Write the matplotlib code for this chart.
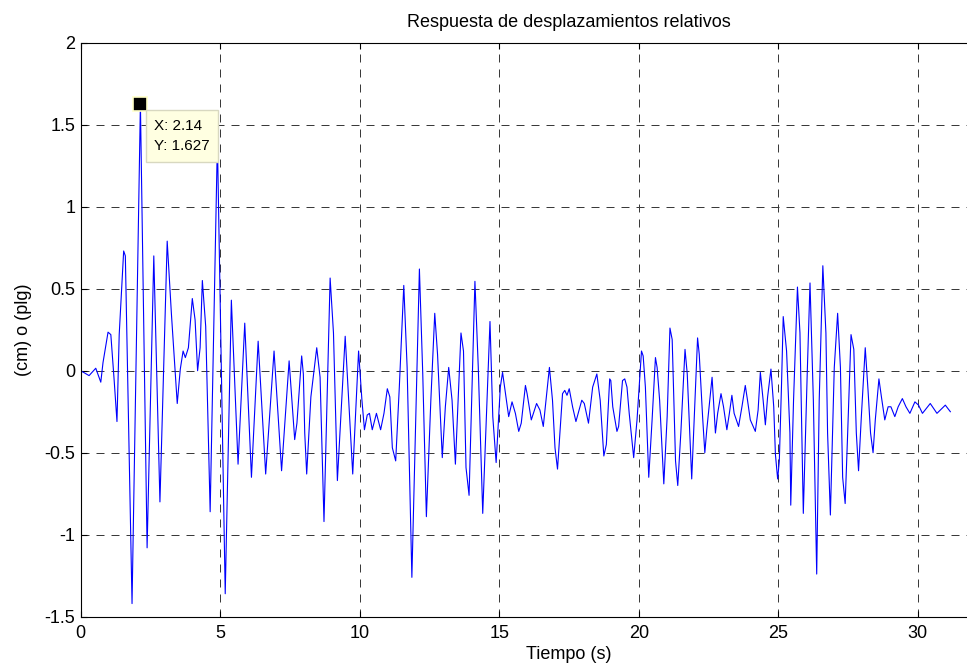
import matplotlib
matplotlib.use("Agg")
import matplotlib.pyplot as plt

plt.rcParams['font.family'] = ['Liberation Sans', 'DejaVu Sans']

# Time (s) and relative displacement (cm)
tiempo = [
    0.00, 0.30, 0.54, 0.72, 0.80, 0.98, 1.08, 1.20, 1.30, 1.38, 1.54, 1.60,
    1.84, 2.14, 2.38, 2.62, 2.84, 3.10, 3.25, 3.46, 3.57, 3.67, 3.75, 3.86,
    4.00, 4.10, 4.19, 4.28, 4.36, 4.48, 4.64, 4.90, 5.18, 5.40, 5.64, 5.88,
    6.12, 6.36, 6.63, 6.93, 7.20, 7.47, 7.67, 7.75, 7.92, 7.98, 8.03, 8.10,
    8.25, 8.46, 8.58, 8.72, 8.94, 9.06, 9.20, 9.48, 9.75, 9.96, 10.08, 10.17,
    10.27, 10.35, 10.45, 10.60, 10.75, 10.87, 10.99, 11.08, 11.17, 11.29,
    11.42, 11.58, 11.70, 11.87, 12.14, 12.26, 12.39, 12.55, 12.69, 12.79,
    12.96, 13.07, 13.19, 13.31, 13.43, 13.63, 13.72, 13.81, 13.92, 14.13,
    14.25, 14.41, 14.67, 14.77, 14.89, 15.04, 15.12, 15.34, 15.46, 15.58,
    15.70, 15.79, 15.94, 16.00, 16.15, 16.34, 16.46, 16.58, 16.80, 16.91,
    17.00, 17.09, 17.27, 17.35, 17.43, 17.51, 17.63, 17.75, 17.96, 18.05,
    18.20, 18.35, 18.50, 18.62, 18.75, 18.84, 18.96, 19.00, 19.07, 19.22,
    19.28, 19.42, 19.50, 19.58, 19.66, 19.82, 19.94, 20.10, 20.16, 20.24,
    20.36, 20.48, 20.60, 20.66, 20.75, 20.90, 21.02, 21.12, 21.20, 21.32,
    21.40, 21.51, 21.66, 21.74, 21.90, 22.11, 22.17, 22.29, 22.37, 22.44,
    22.63, 22.75, 22.83, 22.95, 23.04, 23.16, 23.25, 23.34, 23.42, 23.58,
    23.70, 23.82, 23.90, 24.00, 24.18, 24.28, 24.36, 24.46, 24.54, 24.62,
    24.74, 24.84, 24.90, 24.98, 25.04, 25.12, 25.18, 25.30, 25.42, 25.45,
    25.55, 25.69, 25.78, 25.90, 26.04, 26.14, 26.26, 26.38, 26.47, 26.60,
    26.71, 26.77, 26.87, 27.01, 27.13, 27.23, 27.31, 27.40, 27.49, 27.61,
    27.71, 27.80, 27.88, 27.98, 28.12, 28.22, 28.31, 28.40, 28.48, 28.61,
    28.70, 28.82, 28.94, 29.04, 29.18, 29.30, 29.45, 29.58, 29.72, 29.90,
    30.03, 30.17, 30.45, 30.69, 30.99, 31.17,
]
desplazamiento = [
    0.00, -0.03, 0.015, -0.07, 0.05, 0.235, 0.22, -0.06, -0.31, 0.22, 0.73, 0.70,
    -1.42, 1.627, -1.08, 0.70, -0.80, 0.79, 0.35, -0.20, 0.01, 0.12, 0.08, 0.14,
    0.44, 0.31, 0.00, 0.14, 0.55, 0.27, -0.86, 1.40, -1.36, 0.43, -0.57, 0.29,
    -0.65, 0.18, -0.63, 0.12, -0.61, 0.06, -0.42, -0.32, 0.09, -0.02, -0.38, -0.63,
    -0.16, 0.14, -0.04, -0.92, 0.565, 0.23, -0.67, 0.21, -0.63, 0.12, -0.18, -0.36,
    -0.27, -0.26, -0.36, -0.26, -0.36, -0.26, -0.11, -0.16, -0.47, -0.55,
    -0.10, 0.52, 0.02, -1.26, 0.62, -0.02, -0.89, -0.18, 0.35, 0.10,
    -0.53, -0.22, 0.02, -0.18, -0.57, 0.23, 0.12, -0.59, -0.76, 0.545,
    0.02, -0.87, 0.30, -0.28, -0.56, -0.10, -0.01, -0.28, -0.19, -0.26,
    -0.37, -0.32, -0.09, -0.14, -0.30, -0.20, -0.24, -0.34, 0.02, -0.18,
    -0.47, -0.60, -0.14, -0.12, -0.15, -0.11, -0.22, -0.31, -0.18, -0.20,
    -0.32, -0.10, -0.02, -0.18, -0.52, -0.45, -0.05, -0.06, -0.22, -0.37,
    -0.34, -0.06, -0.05, -0.10, -0.26, -0.53, -0.30, 0.12, 0.09, -0.10,
    -0.65, -0.30, 0.08, 0.02, -0.18, -0.69, -0.28, 0.26, 0.19, -0.55,
    -0.70, -0.38, 0.13, -0.02, -0.66, 0.20, 0.10, -0.28, -0.50, -0.36,
    -0.04, -0.38, -0.26, -0.14, -0.22, -0.36, -0.26, -0.15, -0.26, -0.34,
    -0.22, -0.09, -0.18, -0.30, -0.37, -0.24, -0.01, -0.18, -0.33, -0.16,
    0.01, -0.22, -0.51, -0.66, -0.55, -0.08, 0.33, 0.12, -0.38, -0.82,
    -0.18, 0.51, 0.23, -0.87, -0.02, 0.535, -0.18, -1.24, -0.18, 0.64,
    0.23, -0.38, -0.88, 0.02, 0.35, 0.02, -0.65, -0.81, -0.38, 0.22,
    0.13, -0.38, -0.61, -0.28, 0.14, -0.12, -0.38, -0.50, -0.30, -0.05,
    -0.16, -0.30, -0.22, -0.22, -0.28, -0.22, -0.17, -0.22, -0.26, -0.19,
    -0.21, -0.26, -0.20, -0.26, -0.21, -0.25,
]

xticks = [0, 5, 10, 15, 20, 25, 30]
yticks = [-1.5, -1, -0.5, 0, 0.5, 1, 1.5, 2]
ytick_labels = ['-1.5', '-1', '-0.5', '0', '0.5', '1', '1.5', '2']

tip_x = 2.14
tip_y = 1.627

fig = plt.figure(figsize=(9.67, 6.70), dpi=100)
ax = fig.add_axes([80.7 / 967, 53.3 / 670, 35 * 27.9 / 967, 574 / 670])

ax.plot(tiempo, desplazamiento, color='#0000ff', linewidth=0.8)

ax.set_xlim(0, 35)
ax.set_ylim(-1.5, 2)
ax.set_xticks(xticks)
ax.set_xticklabels([str(v) for v in xticks])
ax.set_yticks(yticks)
ax.set_yticklabels(ytick_labels)

ax.grid(True, color='#3a3a3a', linestyle=(0, (8, 7)), linewidth=0.72)
ax.tick_params(direction='in', top=True, right=True, length=4, width=0.8,
               labelsize=13, pad=4)
ax.tick_params(axis='x', pad=6)
for s in ax.spines.values():
    s.set_linewidth(0.8)
    s.set_color('black')

ax.set_title('Respuesta de desplazamientos relativos', fontsize=13, pad=11)
ax.set_xlabel('Tiempo (s)', fontsize=13, labelpad=3)
ax.set_ylabel('(cm) o (plg)', fontsize=13, labelpad=9)

# data tip
ax.plot([tip_x], [tip_y], marker='s', markersize=9.5, color='black',
        markeredgecolor='#ffffc8', markeredgewidth=1.2, zorder=5)
ax.annotate(f'X: {tip_x}\nY: {tip_y}', xy=(tip_x, tip_y), xytext=(14, -15),
            textcoords='offset pixels', ha='left', va='top', fontsize=11,
            linespacing=1.6, zorder=6,
            bbox=dict(boxstyle='square,pad=0.55', facecolor='#ffffe1',
                      edgecolor='#d8d8c0', linewidth=1))

fig.savefig('out.png', dpi=100)
